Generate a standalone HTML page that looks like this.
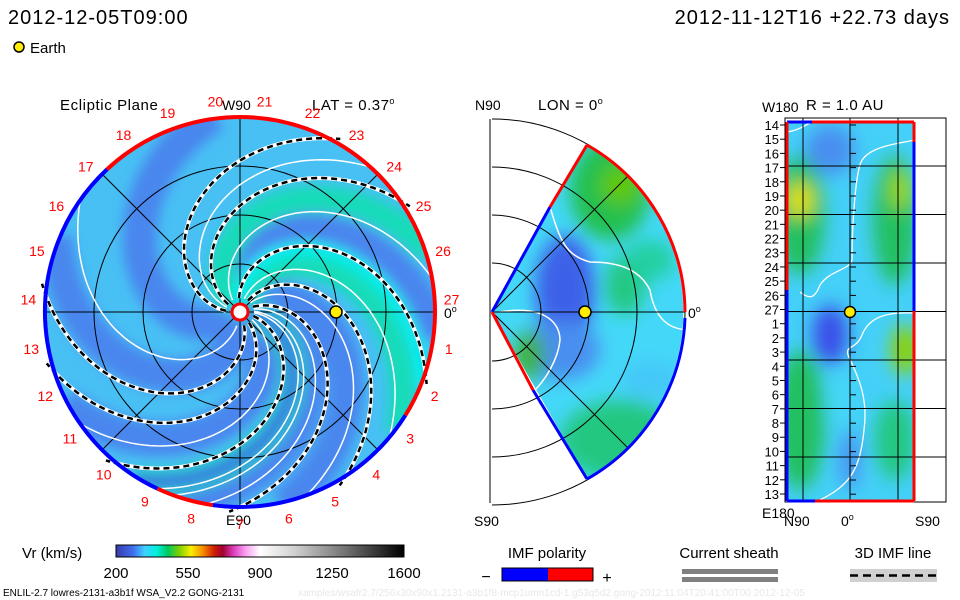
<!DOCTYPE html>
<html><head><meta charset="utf-8">
<style>
html,body{margin:0;padding:0;background:#fff;}
#root{position:relative;width:960px;height:600px;overflow:hidden;font-family:"Liberation Sans",sans-serif;}
svg text{font-family:"Liberation Sans",sans-serif;}
</style></head>
<body>
<div id="root">
<svg id="svg" width="960" height="600" viewBox="0 0 960 600">
<defs>
  <filter id="blur6" x="-20%" y="-20%" width="140%" height="140%"><feGaussianBlur stdDeviation="6"/></filter>
  <filter id="blur9" x="-20%" y="-20%" width="140%" height="140%"><feGaussianBlur stdDeviation="9"/></filter>
  <clipPath id="discClip"><circle cx="240" cy="312" r="195"/></clipPath>
  <clipPath id="wedgeClip"><path d="M492,312 L587,145 A193,193 0 0 1 587,479 Z"/></clipPath>
  <clipPath id="rectClip"><rect x="787" y="122" width="127" height="379"/></clipPath>
  <linearGradient id="cbar" x1="0" x2="1" y1="0" y2="0">
    <stop offset="0" stop-color="#3a3aa8"/>
    <stop offset="0.06" stop-color="#3f6ff0"/>
    <stop offset="0.1" stop-color="#3fd0ff"/>
    <stop offset="0.14" stop-color="#00f0e0"/>
    <stop offset="0.18" stop-color="#00c860"/>
    <stop offset="0.22" stop-color="#80d000"/>
    <stop offset="0.26" stop-color="#f8f000"/>
    <stop offset="0.3" stop-color="#f89000"/>
    <stop offset="0.34" stop-color="#d02000"/>
    <stop offset="0.37" stop-color="#a00030"/>
    <stop offset="0.41" stop-color="#e040c0"/>
    <stop offset="0.45" stop-color="#f8a0f0"/>
    <stop offset="0.5" stop-color="#ffffff"/>
    <stop offset="0.62" stop-color="#d0d0d0"/>
    <stop offset="0.8" stop-color="#707070"/>
    <stop offset="1" stop-color="#000000"/>
  </linearGradient>
</defs>

<text x="8" y="24" font-size="20" fill="#000" letter-spacing="1">2012-12-05T09:00</text>
<text x="950" y="24" font-size="20" fill="#000" text-anchor="end" letter-spacing="1">2012-11-12T16 +22.73 days</text>
<circle cx="19" cy="47" r="5" fill="#ffee00" stroke="#000" stroke-width="1.5"/>
<text x="30" y="53" font-size="15">Earth</text>

<g id="disc">
  <text x="60" y="110" font-size="15" letter-spacing="0.6">Ecliptic Plane</text>
  <text x="222" y="110" font-size="14">W90</text>
  <text x="312" y="110" font-size="15" letter-spacing="0.5">LAT = 0.37<tspan dy="-6" font-size="9">o</tspan></text>
  <text x="226" y="525" font-size="14">E90</text>
  <text x="444" y="318" font-size="14">0<tspan dy="-6" font-size="9">o</tspan></text>
  <g clip-path="url(#discClip)" id="discFill">
    <circle cx="240" cy="312" r="195" fill="#48c0f4"/>
  </g>
  <g id="discGrid"></g>
  <g id="discLines"></g>
  <g id="discRim"></g>
  <g id="discLabels"></g>
  <circle cx="240" cy="312" r="8" fill="#fff" stroke="#f00" stroke-width="3"/>
  <circle cx="336" cy="312" r="6" fill="#ffee00" stroke="#000" stroke-width="1.5"/>
</g>

<g id="mer">
  <text x="475" y="110" font-size="14">N90</text>
  <text x="538" y="110" font-size="15" letter-spacing="0.5">LON = 0<tspan dy="-6" font-size="9">o</tspan></text>
  <text x="474" y="526" font-size="14">S90</text>
  <text x="688" y="318" font-size="14">0<tspan dy="-6" font-size="9">o</tspan></text>
  <g clip-path="url(#wedgeClip)" id="wedgeFill">
    <rect x="480" y="130" width="220" height="360" fill="#44d8f8"/>
    <g filter="url(#blur9)">
      <ellipse cx="610" cy="190" rx="40" ry="50" fill="#22c050"/>
      <ellipse cx="620" cy="185" rx="20" ry="20" fill="#60c800"/>
      <ellipse cx="565" cy="290" rx="30" ry="55" fill="#3c60e8"/>
      <ellipse cx="560" cy="350" rx="40" ry="30" fill="#4a8ef0"/>
      <ellipse cx="625" cy="285" rx="20" ry="30" fill="#22c880"/>
      <ellipse cx="650" cy="260" rx="25" ry="20" fill="#22d0a0"/>
      <ellipse cx="620" cy="440" rx="60" ry="40" fill="#22c880"/>
      <ellipse cx="530" cy="355" rx="15" ry="25" fill="#40b030"/>
      <ellipse cx="650" cy="380" rx="30" ry="20" fill="#44c8f8"/>
    </g>
    <path d="M550,207 C560,240 565,255 590,262 C620,262 640,270 650,290 C655,320 670,330 690,330" fill="none" stroke="#fff" stroke-width="1.5"/>
    <path d="M500,312 C540,305 560,320 560,340 C558,360 545,380 535,390" fill="none" stroke="#fff" stroke-width="1.5"/>
  </g>
  <g id="merGrid"></g>
  <g id="merRim">
    <polyline points="492,312 550,207" fill="none" stroke="#0000ff" stroke-width="3"/>
    <polyline points="550,207 587,145" fill="none" stroke="#ff0000" stroke-width="3"/>
    <path d="M587,145 A193,193 0 0 1 685,312" fill="none" stroke="#ff0000" stroke-width="3"/>
    <path d="M685,318 A193,193 0 0 1 587,479" fill="none" stroke="#0000ff" stroke-width="3"/>
    <polyline points="587,479 533,390" fill="none" stroke="#0000ff" stroke-width="3"/>
    <polyline points="533,390 492,312" fill="none" stroke="#ff0000" stroke-width="3"/>
  </g>
  <circle cx="585" cy="312" r="6" fill="#ffee00" stroke="#000" stroke-width="1.5"/>
</g>

<g id="rpan">
  <text x="762" y="112" font-size="14">W180</text>
  <text x="806" y="110" font-size="15" letter-spacing="0.5">R = 1.0 AU</text>
  <text x="762" y="518" font-size="14">E180</text>
  <text x="784" y="526" font-size="14">N90</text>
  <text x="841" y="526" font-size="14">0<tspan dy="-6" font-size="9">o</tspan></text>
  <text x="915" y="526" font-size="14">S90</text>
  <g clip-path="url(#rectClip)">
    <rect x="787" y="122" width="127" height="379" fill="#44d0f8"/>
    <g filter="url(#blur9)">
      <ellipse cx="800" cy="215" rx="25" ry="60" fill="#22c060"/>
      <ellipse cx="800" cy="200" rx="14" ry="18" fill="#e0e000"/>
      <ellipse cx="895" cy="220" rx="22" ry="65" fill="#22c060"/>
      <ellipse cx="900" cy="190" rx="10" ry="20" fill="#a0d800"/>
      <ellipse cx="830" cy="150" rx="25" ry="25" fill="#4a8ef0"/>
      <ellipse cx="830" cy="335" rx="18" ry="30" fill="#3a50e8"/>
      <ellipse cx="800" cy="420" rx="25" ry="70" fill="#22c060"/>
      <ellipse cx="905" cy="350" rx="14" ry="25" fill="#90d000"/>
      <ellipse cx="895" cy="440" rx="20" ry="40" fill="#22c880"/>
      <ellipse cx="850" cy="460" rx="10" ry="30" fill="#4a8ef0"/>
      <ellipse cx="840" cy="400" rx="12" ry="25" fill="#44d8f8"/>
    </g>
    <path d="M787,132 C800,130 805,125 812,122 M914,140 C905,143 865,145 860,165 C855,180 852,230 852,260 C850,270 830,270 820,285 C815,298 810,300 800,292 M914,313 C890,312 870,315 862,335 C856,350 845,345 848,355 C860,380 868,400 864,430 C860,470 850,485 820,500" fill="none" stroke="#fff" stroke-width="1.3"/>
  </g>
  <g id="rGrid"></g>
  <g id="rLabels"></g>
  <g>
    <line x1="787" y1="122" x2="812" y2="122" stroke="#00f" stroke-width="3"/>
    <line x1="812" y1="122" x2="914" y2="122" stroke="#f00" stroke-width="3"/>
    <line x1="787" y1="501" x2="815" y2="501" stroke="#00f" stroke-width="3"/>
    <line x1="815" y1="501" x2="914" y2="501" stroke="#f00" stroke-width="3"/>
    <line x1="787" y1="122" x2="787" y2="290" stroke="#f00" stroke-width="3"/>
    <line x1="787" y1="290" x2="787" y2="501" stroke="#00f" stroke-width="3"/>
    <line x1="914" y1="122" x2="914" y2="142" stroke="#f00" stroke-width="3"/>
    <line x1="914" y1="142" x2="914" y2="311" stroke="#00f" stroke-width="3"/>
    <line x1="914" y1="311" x2="914" y2="501" stroke="#f00" stroke-width="3"/>
  </g>
  <circle cx="850" cy="312" r="5.5" fill="#ffee00" stroke="#000" stroke-width="1.5"/>
</g>

<g>
  <text x="22" y="558" font-size="15">Vr (km/s)</text>
  <rect x="116" y="545" width="288" height="12" fill="url(#cbar)" stroke="#000" stroke-width="1"/>
  <g id="cbTicks"></g>
</g>
<g>
  <text x="547" y="558" font-size="15" text-anchor="middle">IMF polarity</text>
  <rect x="502" y="568" width="46" height="13" fill="#0000ff"/>
  <rect x="548" y="568" width="45" height="13" fill="#ff0000"/>
  <rect x="502" y="568" width="91" height="13" fill="none" stroke="#000" stroke-width="1"/>
  <text x="486" y="582" font-size="16" text-anchor="middle">−</text>
  <text x="607" y="583" font-size="16" text-anchor="middle">+</text>
</g>
<g>
  <text x="729" y="558" font-size="15" text-anchor="middle">Current sheath</text>
  <rect x="682" y="569" width="96" height="5" fill="#808080"/>
  <rect x="682" y="577" width="96" height="5" fill="#808080"/>
</g>
<g>
  <text x="893" y="558" font-size="15" text-anchor="middle">3D IMF line</text>
  <rect x="850" y="569" width="87" height="13" fill="#d0d0d0"/>
  <line x1="850" y1="575.5" x2="937" y2="575.5" stroke="#000" stroke-width="2.5" stroke-dasharray="8 5"/>
</g>
<text x="3" y="596" font-size="10">ENLIL-2.7 lowres-2131-a3b1f WSA_V2.2 GONG-2131</text>
<text x="298" y="596" font-size="10" fill="#e8e8e8">xamples/wsafr2.7/256x30x90x1.2131-a3b1f8-mcp1umn1cd-1.g53q5d2.gong-2012:11:04T20:41:00T00   2012-12-05</text>
</svg>
</div>
<script>
const carringtonLabels = [1,2,3,4,5,6,7,8,9,10,11,12,13,14,15,16,17,18,19,20,21,22,23,24,25,26,27];
const carringtonStartDeg = -10;
const rowLabels = [14,15,16,17,18,19,20,21,22,23,24,25,26,27,1,2,3,4,5,6,7,8,9,10,11,12,13];
const colorbarTicks = [200,550,900,1250,1600];
const colorbarMin = 200, colorbarMax = 1600;
const dashedSpiralEnds = [63, 35, -18, -57, -90, 175, 198, 231];
const whiteSpiralEnds = [48, 10, -40, -70, -100, -115, 145, 215, 250];
const blueBandEnds = [100, -5, -75, -105, 160, 210, 255];
const greenBandEnds = [20, -35, 240];

const NS='http://www.w3.org/2000/svg';
function mk(tag, attrs, parent){const e=document.createElementNS(NS,tag);for(const k in attrs)e.setAttribute(k,attrs[k]);parent.appendChild(e);return e;}
const cx=240, cy=312, R=195, wind=0.62;
function spiral(endDeg, r0){
  let d='';
  for(let r=r0; r<=R+6; r+=3){
    const th=(endDeg + wind*(R-r))*Math.PI/180;
    const x=cx+r*Math.cos(th), y=cy-r*Math.sin(th);
    d+=(d?'L':'M')+x.toFixed(1)+','+y.toFixed(1);
  }
  return d;
}
const fill=document.getElementById('discFill');
const bg=mk('g',{filter:'url(#blur6)'},fill);
blueBandEnds.forEach(a=>{const p=mk('path',{d:spiral(a,10),fill:'none',stroke:'#4a86ee','stroke-width':34},bg);

});
greenBandEnds.forEach(a=>{const p=mk('path',{d:spiral(a,10),fill:'none',stroke:'#18dcb8','stroke-width':26},bg);

});
mk('path',{d:spiral(-120,10),fill:'none',stroke:'#3c5ae8','stroke-width':12},bg);
mk('path',{d:spiral(-20,10),fill:'none',stroke:'#00f0f0','stroke-width':14},bg);
const g=document.getElementById('discGrid');
[48,97,146].forEach(r=>mk('circle',{cx,cy,r,fill:'none',stroke:'#000','stroke-width':1},g));
[0,45,90,135].forEach(a=>{const t=a*Math.PI/180;mk('line',{x1:cx-R*Math.cos(t),y1:cy-R*Math.sin(t),x2:cx+R*Math.cos(t),y2:cy+R*Math.sin(t),stroke:'#000','stroke-width':1},g);});
const L=document.getElementById('discLines');
whiteSpiralEnds.forEach(a=>{const p=mk('path',{d:spiral(a,14),fill:'none',stroke:'#fff','stroke-width':1.5},L);

});
dashedSpiralEnds.forEach(a=>{
  const d=spiral(a,14);
  mk('path',{d,fill:'none',stroke:'#fff','stroke-width':4},L);
  const p=mk('path',{d,fill:'none',stroke:'#000','stroke-width':2.5,'stroke-dasharray':'6 4'},L);
  
  
});
const rim=document.getElementById('discRim');
function arc(a1,a2,col){const t1=a1*Math.PI/180,t2=a2*Math.PI/180;
  const x1=cx+R*Math.cos(t1),y1=cy-R*Math.sin(t1),x2=cx+R*Math.cos(t2),y2=cy-R*Math.sin(t2);
  const large=(a2-a1)>180?1:0;
  mk('path',{d:`M${x1},${y1} A${R},${R} 0 ${large} 0 ${x2},${y2}`,fill:'none',stroke:col,'stroke-width':4},rim);}
arc(-32,133,'#ff0000'); arc(133,245,'#0000ff'); arc(245,262,'#ff0000'); arc(262,328,'#0000ff');
const lab=document.getElementById('discLabels');
carringtonLabels.forEach((n,i)=>{
  const t=(carringtonStartDeg - i*360/27)*Math.PI/180;
  const x=cx+212*Math.cos(t), y=cy-212*Math.sin(t)+5;
  const e=mk('text',{x:x.toFixed(1),y:y.toFixed(1),'font-size':14,fill:'#ff0000','text-anchor':'middle'},lab);
  e.textContent=n;
  
  
});
const mg=document.getElementById('merGrid');
const mx=492,my=312;
[49,97,145,193].forEach(r=>mk('path',{d:`M${mx},${my-r} A${r},${r} 0 0 1 ${mx},${my+r}`,fill:'none',stroke:'#000','stroke-width':1},mg));
mk('line',{x1:mx-2,y1:119,x2:mx-2,y2:503,stroke:'#000','stroke-width':1},mg);
mk('line',{x1:mx,y1:my,x2:mx+193,y2:my,stroke:'#000','stroke-width':1},mg);
[45,-45].forEach(a=>{const t=a*Math.PI/180;mk('line',{x1:mx,y1:my,x2:mx+193*Math.cos(t),y2:my-193*Math.sin(t),stroke:'#000','stroke-width':1},mg);});
const rg=document.getElementById('rGrid');
mk('rect',{x:785,y:118,width:161,height:384,fill:'none',stroke:'#000','stroke-width':1},rg);
const rowTop=125, rowStep=(494-125)/26;
for(let k=0;k<7;k++){const y=166+k*48.5;mk('line',{x1:785,y1:y,x2:946,y2:y,stroke:'#000','stroke-width':1},rg);}
[803,850,898].forEach(x=>mk('line',{x1:x,y1:118,x2:x,y2:502,stroke:'#000','stroke-width':1},rg));
for(let y=125;y<500;y+=14.2) mk('line',{x1:850,y1:y,x2:856,y2:y,stroke:'#000','stroke-width':1},rg);
const rl=document.getElementById('rLabels');
rowLabels.forEach((n,i)=>{
  const y=rowTop+i*rowStep+5;
  const e=mk('text',{x:779,y:y.toFixed(1),'font-size':13,'text-anchor':'end'},rl);
  e.textContent=n;
  
  
  mk('line',{x1:780,y1:y-5,x2:785,y2:y-5,stroke:'#000','stroke-width':1},rl);
});
const cb=document.getElementById('cbTicks');
colorbarTicks.forEach(v=>{
  const x=116+(v-colorbarMin)/(colorbarMax-colorbarMin)*288;
  const e=mk('text',{x:x.toFixed(1),y:578,'font-size':15,'text-anchor':'middle'},cb);
  e.textContent=v;
  
  
});
</script>
</body></html>
